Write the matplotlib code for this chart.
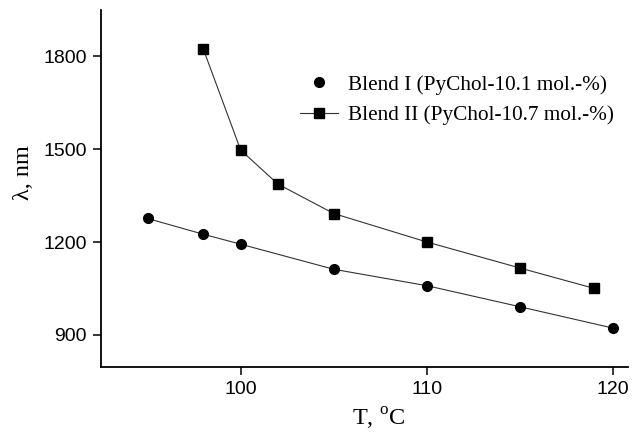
import matplotlib
matplotlib.use('Agg')
import matplotlib.pyplot as plt
from matplotlib.lines import Line2D

# data
t_blend1 = [95, 98, 100, 105, 110, 115, 120]
lam_blend1 = [1276, 1225, 1193, 1112, 1059, 991, 922]

t_blend2 = [98, 100, 102, 105, 110, 115, 119]
lam_blend2 = [1822, 1497, 1387, 1292, 1200, 1116, 1050]

x_ticks = [100, 110, 120]
y_ticks = [900, 1200, 1500, 1800]

label1 = 'Blend I (PyChol-10.1 mol.-%)'
label2 = 'Blend II (PyChol-10.7 mol.-%)'

plt.rcParams['mathtext.fontset'] = 'custom'
plt.rcParams['mathtext.rm'] = 'Liberation Serif'

fig = plt.figure(figsize=(6.35, 4.34), dpi=100)
ax = fig.add_axes([0.159, 0.154, 0.83, 0.823])

line_kw = dict(color='#333333', linewidth=0.8, markerfacecolor='black',
               markeredgecolor='black', markersize=7)
ax.plot(t_blend1, lam_blend1, marker='o', **line_kw)
ax.plot(t_blend2, lam_blend2, marker='s', **line_kw)

ax.set_xlim(92.5, 120.8)
ax.set_ylim(796, 1949)
ax.set_xticks(x_ticks)
ax.set_yticks(y_ticks)

for s in ['top', 'right']:
    ax.spines[s].set_visible(False)
for s in ['left', 'bottom']:
    ax.spines[s].set_linewidth(1.3)

ax.tick_params(direction='out', length=6, width=1.1, labelsize=14, pad=4)
for lbl in ax.get_xticklabels() + ax.get_yticklabels():
    lbl.set_fontfamily('Liberation Sans')

ax.set_xlabel('T, $^{\\mathrm{o}}$C', fontfamily='Liberation Serif', fontsize=17.5)
ax.set_ylabel('λ, nm', fontfamily='Liberation Serif', fontsize=17.5)
ax.xaxis.set_label_coords(0.527, -0.108)
ax.yaxis.set_label_coords(-0.128, 0.546)

# legend: first entry shows only the marker, as in the reference
handles = [
    Line2D([], [], linestyle='none', marker='o', **{k: v for k, v in line_kw.items() if k != 'linewidth'}),
    Line2D([], [], marker='s', **line_kw),
]
ax.legend(handles, [label1, label2], loc='upper left', bbox_to_anchor=(0.378, 0.818),
          frameon=False, prop={'family': 'Liberation Serif', 'size': 15.3},
          handlelength=1.8, handletextpad=0.47, labelspacing=0.5,
          borderpad=0, borderaxespad=0)

fig.savefig('out.png', dpi=100)
